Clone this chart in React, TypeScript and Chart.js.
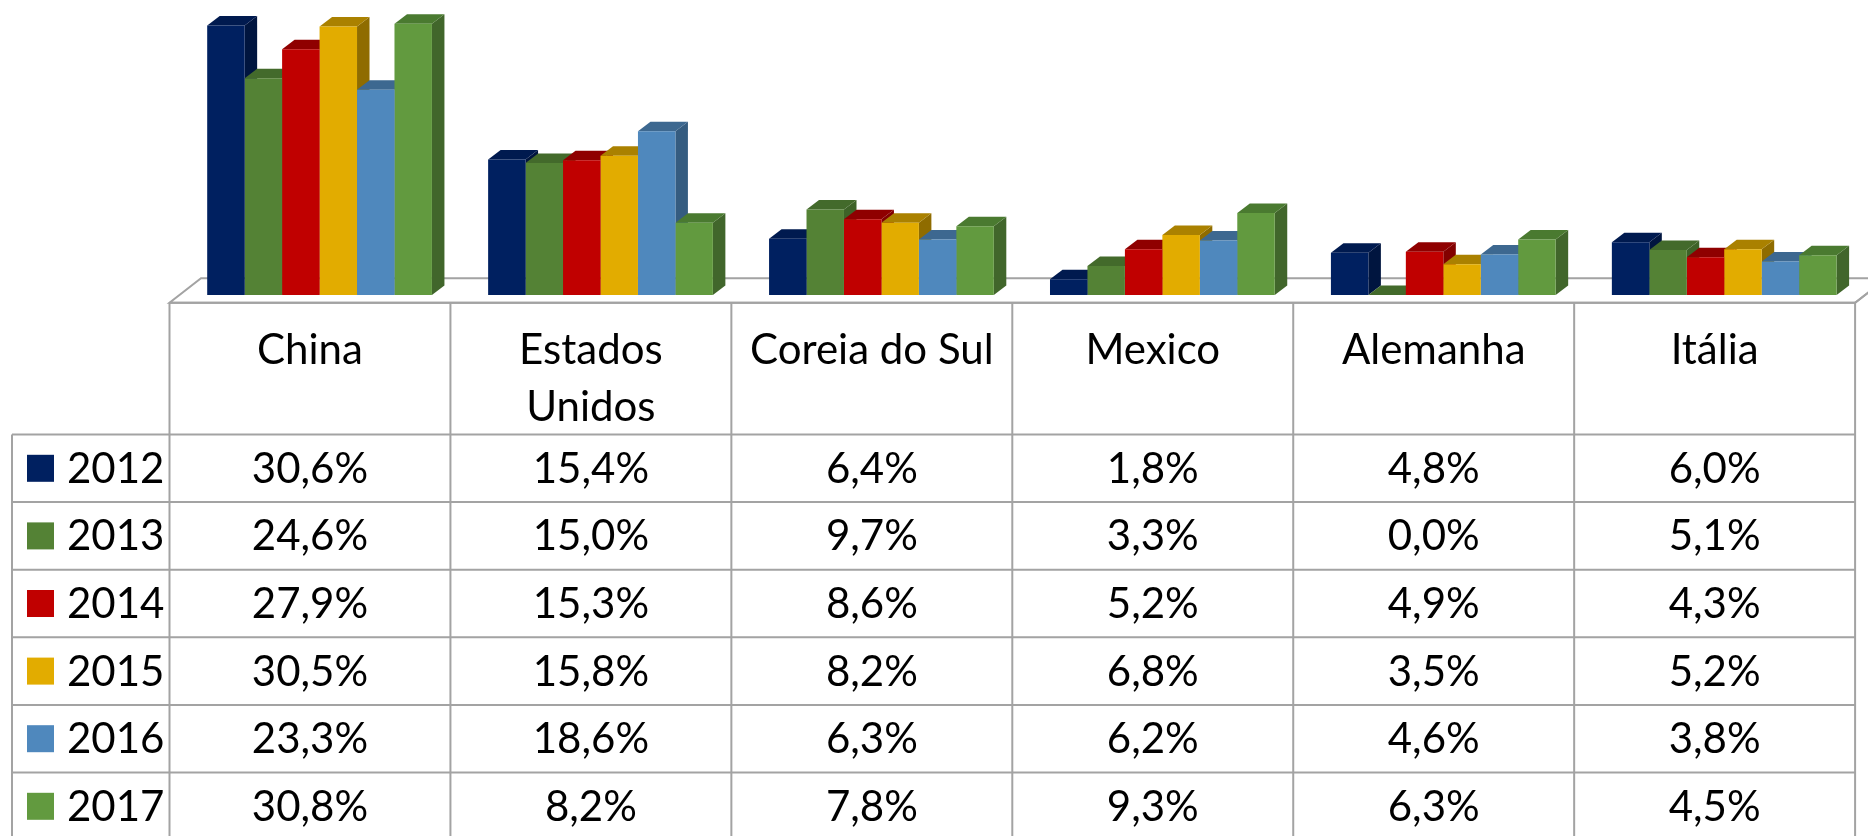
import React, { useEffect, useRef } from "react";
import { Chart, registerables } from "chart.js";

Chart.register(...registerables);

// ---------- data ----------
const categories = ["China", "Estados Unidos", "Coreia do Sul", "Mexico", "Alemanha", "Itália"];
const years = ["2012", "2013", "2014", "2015", "2016", "2017"];
const v2012 = [30.6, 15.4, 6.4, 1.8, 4.8, 6.0];
const v2013 = [24.6, 15.0, 9.7, 3.3, 0.0, 5.1];
const v2014 = [27.9, 15.3, 8.6, 5.2, 4.9, 4.3];
const v2015 = [30.5, 15.8, 8.2, 6.8, 3.5, 5.2];
const v2016 = [23.3, 18.6, 6.3, 6.2, 4.6, 3.8];
const v2017 = [30.8, 8.2, 7.8, 9.3, 6.3, 4.5];
const seriesValues = [v2012, v2013, v2014, v2015, v2016, v2017];
const yMin = 0;
const yMax = 33.5;

// ---------- styles ----------
const frontColors = ["#002060", "#548235", "#C00000", "#E2AC00", "#4F88BD", "#629A3F"];
const topColors = ["#001A4F", "#436A2B", "#8F0000", "#AA8100", "#3D6890", "#4A7A30"];
const sideColors = ["#00153F", "#3E6328", "#820000", "#8F6C00", "#355C80", "#41662B"];

const W = 1868;
const H = 836;
const FONT = "42px Lato";
const LINE = "#A3A3A3";
const SHIFT = 9.6; // bar front plane offset from floor front (x)
const FLOOR_FRONT = 7.7; // floor front edge below bar base (y)
const FLOOR_DY = 24.5;
const FLOOR_DX = 31.5;
const BAR_DX = 12.5;
const BAR_DY = 9.5;
const HEADER_H = 131.8;
const ROW_H = 67.6;
const TABLE_LEFT = 12;
const LEGEND_BOX = 27;

const fmt = (v: number) => v.toFixed(1).replace(".", ",") + "%";

function wrap(ctx: CanvasRenderingContext2D, text: string, maxW: number): string[] {
  const words = text.split(" ");
  const lines: string[] = [];
  let cur = "";
  for (const w of words) {
    const t = cur ? cur + " " + w : w;
    if (ctx.measureText(t).width > maxW && cur) {
      lines.push(cur);
      cur = w;
    } else cur = t;
  }
  if (cur) lines.push(cur);
  return lines;
}

const depthPlugin = {
  id: "depth3d",
  beforeDatasetsDraw(chart: any) {
    const ctx: CanvasRenderingContext2D = chart.ctx;
    const xs = chart.scales.x;
    const ys = chart.scales.y;
    const base = ys.getPixelForValue(0);
    const colW = xs.getPixelForValue(1) - xs.getPixelForValue(0);
    const left = xs.getPixelForValue(0) - colW / 2 - SHIFT;
    const right = xs.getPixelForValue(categories.length - 1) + colW / 2 - SHIFT;
    const fy = base + FLOOR_FRONT;
    const by = fy - FLOOR_DY;
    ctx.save();
    // floor
    ctx.beginPath();
    ctx.moveTo(left, fy);
    ctx.lineTo(right, fy);
    ctx.lineTo(right + FLOOR_DX, by);
    ctx.lineTo(left + FLOOR_DX, by);
    ctx.closePath();
    ctx.fillStyle = "#FFFFFF";
    ctx.fill();
    ctx.strokeStyle = LINE;
    ctx.lineWidth = 2;
    ctx.stroke();
    // side and top faces, left to right
    for (let i = 0; i < categories.length; i++) {
      for (let d = 0; d < seriesValues.length; d++) {
        const el = chart.getDatasetMeta(d).data[i];
        if (!el) continue;
        const p = el.getProps(["x", "y", "width", "base"], true);
        const L = p.x - p.width / 2;
        const R = p.x + p.width / 2;
        const T = p.y;
        const B = p.base;
        // side
        ctx.beginPath();
        ctx.moveTo(R, T);
        ctx.lineTo(R + BAR_DX, T - BAR_DY);
        ctx.lineTo(R + BAR_DX, B - BAR_DY);
        ctx.lineTo(R, B);
        ctx.closePath();
        ctx.fillStyle = sideColors[d];
        ctx.fill();
        // top
        ctx.beginPath();
        ctx.moveTo(L, T);
        ctx.lineTo(R, T);
        ctx.lineTo(R + BAR_DX, T - BAR_DY);
        ctx.lineTo(L + BAR_DX, T - BAR_DY);
        ctx.closePath();
        ctx.fillStyle = topColors[d];
        ctx.fill();
      }
    }
    ctx.restore();
  },
  afterDraw(chart: any) {
    const ctx: CanvasRenderingContext2D = chart.ctx;
    const xs = chart.scales.x;
    const ys = chart.scales.y;
    const base = ys.getPixelForValue(0);
    const colW = xs.getPixelForValue(1) - xs.getPixelForValue(0);
    const n = categories.length;
    const colLeft = (i: number) => xs.getPixelForValue(i) - colW / 2 - SHIFT;
    const tableRight = colLeft(n - 1) + colW;
    const top = base + FLOOR_FRONT;
    const rowTop = top + HEADER_H;
    const bottom = rowTop + ROW_H * years.length;
    ctx.save();
    ctx.strokeStyle = LINE;
    ctx.lineWidth = 2;
    ctx.beginPath();
    // horizontal lines
    ctx.moveTo(colLeft(0), top);
    ctx.lineTo(tableRight, top);
    for (let r = 0; r <= years.length; r++) {
      const y = rowTop + r * ROW_H;
      ctx.moveTo(TABLE_LEFT, y);
      ctx.lineTo(tableRight, y);
    }
    // vertical lines
    ctx.moveTo(TABLE_LEFT, rowTop);
    ctx.lineTo(TABLE_LEFT, bottom);
    for (let i = 0; i <= n; i++) {
      const x = i < n ? colLeft(i) : tableRight;
      ctx.moveTo(x, top);
      ctx.lineTo(x, bottom);
    }
    ctx.stroke();
    // right end of floor slab
    ctx.beginPath();
    ctx.moveTo(tableRight, top);
    ctx.lineTo(tableRight + FLOOR_DX, top - FLOOR_DY);
    ctx.stroke();

    ctx.fillStyle = "#000000";
    ctx.font = FONT;
    // header
    ctx.textAlign = "center";
    ctx.textBaseline = "alphabetic";
    for (let i = 0; i < n; i++) {
      const cx = colLeft(i) + colW / 2;
      const lines = wrap(ctx, categories[i], colW - 14);
      lines.forEach((ln, k) => ctx.fillText(ln, cx, top + 61.5 + k * 57));
    }
    // rows
    ctx.textBaseline = "middle";
    for (let r = 0; r < years.length; r++) {
      const cy = rowTop + r * ROW_H + ROW_H / 2;
      ctx.fillStyle = frontColors[r];
      ctx.fillRect(27, cy - LEGEND_BOX / 2, LEGEND_BOX, LEGEND_BOX);
      ctx.fillStyle = "#000000";
      ctx.textAlign = "left";
      ctx.fillText(years[r], 67, cy + 1);
      ctx.textAlign = "center";
      for (let i = 0; i < n; i++) {
        ctx.fillText(fmt(seriesValues[r][i]), colLeft(i) + colW / 2, cy + 1);
      }
    }
    ctx.restore();
  },
};

export default function App() {
  const ref = useRef<HTMLCanvasElement>(null);
  useEffect(() => {
    if (!ref.current) return;
    const chart = new Chart(ref.current, {
      type: "bar",
      data: {
        labels: categories,
        datasets: seriesValues.map((vals, d) => ({
          label: years[d],
          data: vals,
          backgroundColor: frontColors[d],
          borderWidth: 0,
          categoryPercentage: 0.8,
          barPercentage: 1.0,
        })),
      },
      options: {
        responsive: false,
        animation: false,
        devicePixelRatio: 1,
        layout: { padding: { left: 179.1, right: 3.3, top: 0, bottom: 541 } },
        plugins: { legend: { display: false }, tooltip: { enabled: false } },
        scales: {
          x: { display: false, offset: true },
          y: { display: false, min: yMin, max: yMax },
        },
      },
      plugins: [depthPlugin],
    });
    if ((document as any).fonts) {
      (document as any).fonts.load(FONT).then(() => chart.draw());
    }
    return () => chart.destroy();
  }, []);
  return (
    <div style={{ position: "fixed", left: 0, top: 0, width: W, height: H, background: "#fff" }}>
      <canvas ref={ref} width={W} height={H} style={{ display: "block" }} />
    </div>
  );
}
